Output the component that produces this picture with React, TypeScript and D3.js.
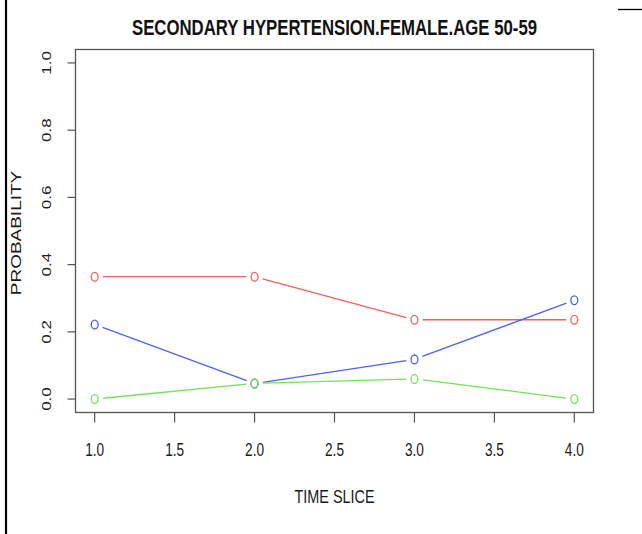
import React from "react";
import * as d3 from "d3";

const timeSlices = [1, 2, 3, 4];
const redSeries = [0.364, 0.364, 0.236, 0.236];
const blueSeries = [0.222, 0.046, 0.118, 0.294];
const greenSeries = [0.0, 0.047, 0.06, 0.0];
const xTicks = [1.0, 1.5, 2.0, 2.5, 3.0, 3.5, 4.0];
const yTicks = [0.0, 0.2, 0.4, 0.6, 0.8, 1.0];
const seriesColors = ["#f0605e", "#4b62f2", "#74e258"];
const titleText = "SECONDARY HYPERTENSION.FEMALE.AGE 50-59";
const xLabel = "TIME SLICE";
const yLabel = "PROBABILITY";

const W = 642;
const H = 534;
const SX = 0.78; // horizontal squeeze of the original rendering
const left = 75.5, right = 593.5, top = 49.5, bottom = 412.5;
const FONT = "'Liberation Sans', Arial, Helvetica, sans-serif";

export default function App() {
  const x = d3.scaleLinear().domain([0.88, 4.12]).range([left, right]);
  const y = d3.scaleLinear().domain([-0.04, 1.04]).range([bottom, top]);
  const series = [redSeries, blueSeries, greenSeries];
  const gap = 10.5;
  const r = 4.4;

  const segs = (vals: number[]) => {
    const out: { x1: number; y1: number; x2: number; y2: number }[] = [];
    for (let i = 0; i < vals.length - 1; i++) {
      const ax = x(timeSlices[i]), ay = y(vals[i]);
      const bx = x(timeSlices[i + 1]), by = y(vals[i + 1]);
      const dxu = (bx - ax) / SX, dy = by - ay;
      const len = Math.sqrt(dxu * dxu + dy * dy);
      if (len <= 2 * gap) continue;
      const ux = dxu / len, uy = dy / len;
      out.push({
        x1: ax + ux * gap * SX,
        y1: ay + uy * gap,
        x2: bx - ux * gap * SX,
        y2: by - uy * gap,
      });
    }
    return out;
  };

  return (
    <svg
      width={W}
      height={H}
      style={{ position: "absolute", left: 0, top: 0, background: "#fff" }}
      fontFamily={FONT}
    >
      <rect x={0} y={0} width={W} height={H} fill="#fff" />
      {/* page decorations */}
      <line x1={6} y1={0} x2={6} y2={H} stroke="#000" strokeWidth={2.2} />
      <line x1={618} y1={9.5} x2={W} y2={9.5} stroke="#000" strokeWidth={1.3} />

      {/* title */}
      <text
        transform={`translate(${(left + right) / 2},35) scale(${SX},1)`}
        textAnchor="middle"
        fontSize={21.5}
        fontWeight="bold"
        fill="#111"
      >
        {titleText}
      </text>

      {/* plot box */}
      <rect
        x={left}
        y={top}
        width={right - left}
        height={bottom - top}
        fill="none"
        stroke="#555"
        strokeWidth={1.3}
      />

      {/* x axis ticks */}
      {xTicks.map((t) => (
        <g key={"xt" + t}>
          <line x1={x(t)} y1={bottom} x2={x(t)} y2={bottom + 10} stroke="#555" strokeWidth={1.2} />
          <text
            transform={`translate(${x(t)},455.5) scale(${SX},1)`}
            textAnchor="middle"
            fontSize={17.5}
            fill="#1a1a1a"
          >
            {t.toFixed(1)}
          </text>
        </g>
      ))}

      {/* y axis ticks */}
      {yTicks.map((t) => (
        <g key={"yt" + t}>
          <line x1={left} y1={y(t)} x2={left - 8} y2={y(t)} stroke="#555" strokeWidth={1.2} />
          <text
            transform={`translate(50.5,${y(t)}) scale(${SX},1) rotate(-90)`}
            textAnchor="middle"
            fontSize={17}
            fill="#1a1a1a"
          >
            {t.toFixed(1)}
          </text>
        </g>
      ))}

      {/* axis labels */}
      <text
        transform={`translate(${(left + right) / 2},503) scale(${SX},1)`}
        textAnchor="middle"
        fontSize={18.5}
        fill="#1a1a1a"
      >
        {xLabel}
      </text>
      <text
        transform={`translate(21,${(top + bottom) / 2 + 2}) scale(${SX},1) rotate(-90)`}
        textAnchor="middle"
        fontSize={19}
        fill="#1a1a1a"
      >
        {yLabel}
      </text>

      {/* series */}
      {series.map((vals, si) => (
        <g key={"s" + si}>
          {segs(vals).map((s, i) => (
            <line
              key={i}
              x1={s.x1}
              y1={s.y1}
              x2={s.x2}
              y2={s.y2}
              stroke={seriesColors[si]}
              strokeWidth={1.3}
            />
          ))}
          {vals.map((v, i) => (
            <ellipse
              key={"p" + i}
              cx={x(timeSlices[i])}
              cy={y(v)}
              rx={r * SX}
              ry={r}
              fill="none"
              stroke={seriesColors[si]}
              strokeWidth={1.3}
            />
          ))}
        </g>
      ))}
    </svg>
  );
}
